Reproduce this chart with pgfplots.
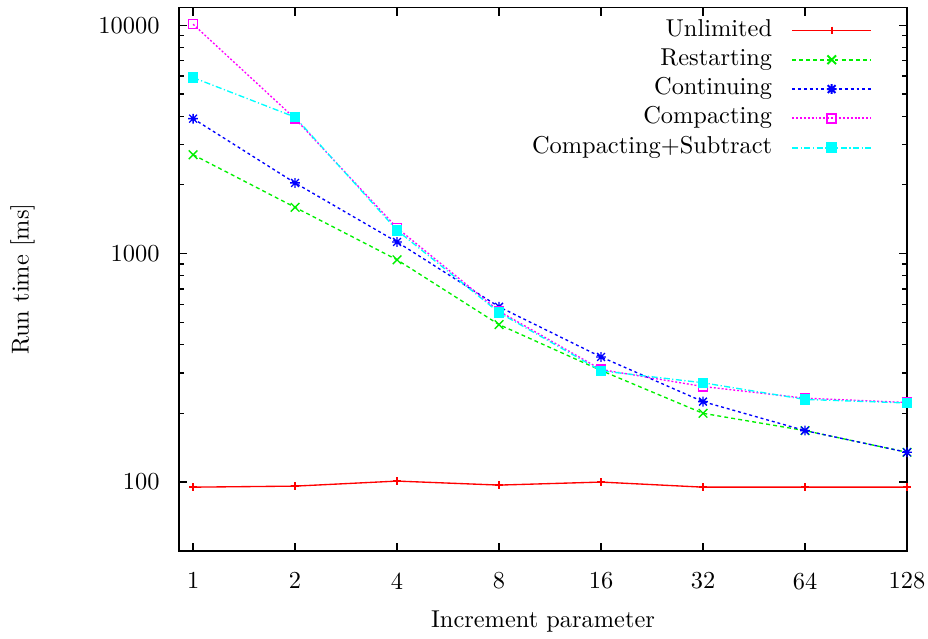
\documentclass[border=0pt]{standalone}
\usepackage{pgfplots}
\pgfplotsset{compat=1.18}
\definecolor{gpred}{RGB}{255,0,0}
\definecolor{gpgreen}{RGB}{0,240,0}
\definecolor{gpblue}{RGB}{0,0,255}
\definecolor{gpmagenta}{RGB}{255,0,255}
\definecolor{gpcyan}{RGB}{0,255,255}
\pgfdeclareplotmark{gpstar}{%
  \pgfpathmoveto{\pgfqpoint{-\pgfplotmarksize}{0pt}}\pgfpathlineto{\pgfqpoint{\pgfplotmarksize}{0pt}}%
  \pgfpathmoveto{\pgfqpoint{0pt}{-\pgfplotmarksize}}\pgfpathlineto{\pgfqpoint{0pt}{\pgfplotmarksize}}%
  \pgfpathmoveto{\pgfqpoint{-.8\pgfplotmarksize}{-.8\pgfplotmarksize}}\pgfpathlineto{\pgfqpoint{.8\pgfplotmarksize}{.8\pgfplotmarksize}}%
  \pgfpathmoveto{\pgfqpoint{-.8\pgfplotmarksize}{.8\pgfplotmarksize}}\pgfpathlineto{\pgfqpoint{.8\pgfplotmarksize}{-.8\pgfplotmarksize}}%
  \pgfusepathqstroke}
\pgfplotstableread{
x     unl  res   con   com   cs
1     95   2710  3900  10100 5900
2     96   1595  2040  3900  3960
4     101  940   1125  1296  1265
8     97   489   585   560   552
16    100  308   353   311   307
32    95   200   225   262   272
64    95   168   168   233   230
128   95   135   135   223   222
}\runtimes
\begin{document}
\begin{tikzpicture}
\useasboundingbox (-73.4pt,-36.1pt) rectangle (307pt,225.8pt);
\begin{axis}[
  at={(0pt,0pt)}, anchor=south west,
  scale only axis, width=298.4pt, height=222.7pt,
  xmode=log, log basis x=2, ymode=log,
  xmin=0.909, xmax=128, ymin=50, ymax=11950,
  xtick={1,2,4,8,16,32,64,128},
  xticklabels={1,2,4,8,16,32,64,128},
  xminorticks=false,
  ytick={100,1000,10000},
  yticklabels={100,1000,10000},
  tick align=inside,
  xtick pos=both, ytick pos=both,
  xticklabel pos=left, yticklabel pos=left,
  major tick length=3.3pt, minor tick length=1.9pt,
  every tick/.style={black, line width=0.5pt},
  axis line style={line width=0.7pt},
  xticklabel style={yshift=-5.4pt},
  yticklabel style={xshift=-4.5pt},
  xlabel={Increment parameter},
  ylabel={Run time [ms]},
  xlabel style={at={(axis description cs:0.5,-0.1307)}, anchor=center},
  ylabel style={at={(axis description cs:-0.2149,0.5)}, anchor=center, rotate=0},
  legend plot pos=right,
  legend cell align=right,
  legend style={at={(1,1)}, anchor=north east, xshift=-14.3pt, yshift=-4.7pt,
    draw=none, fill=none, inner sep=0pt, outer sep=0pt,
    row sep=3pt, column sep=7.8pt,
    nodes={inner sep=0pt, text height=7pt, text depth=2pt}},
  legend image code/.code={\draw[line width=0.8pt, mark repeat=2,mark phase=2] plot coordinates {(0pt,-0.2pt) (16.2pt,-0.2pt) (32.4pt,-0.2pt)};},
  every axis plot/.append style={line width=0.55pt},
]
\addplot[gpred, solid, mark=+, mark size=1.6pt, mark options={solid}] table[x=x,y=unl] {\runtimes};
\addlegendentry{Unlimited}
\addplot[gpgreen, dash pattern=on 1.6pt off 1.3pt, mark=x, mark size=2.5pt, mark options={solid}] table[x=x,y=res] {\runtimes};
\addlegendentry{Restarting}
\addplot[gpblue, dash pattern=on 1.2pt off 1.2pt, mark=gpstar, mark size=2pt, mark options={solid}] table[x=x,y=con] {\runtimes};
\addlegendentry{Continuing}
\addplot[gpmagenta, dash pattern=on 0.8pt off 0.8pt, mark=square, mark size=1.85pt, mark options={solid}] table[x=x,y=com] {\runtimes};
\addlegendentry{Compacting}
\addplot[gpcyan, dash pattern=on 2.5pt off 1pt on 0.5pt off 1pt, mark=square*, mark size=1.85pt, mark options={solid, fill=gpcyan}] table[x=x,y=cs] {\runtimes};
\addlegendentry{Compacting+Subtract}
\end{axis}
\end{tikzpicture}
\end{document}
